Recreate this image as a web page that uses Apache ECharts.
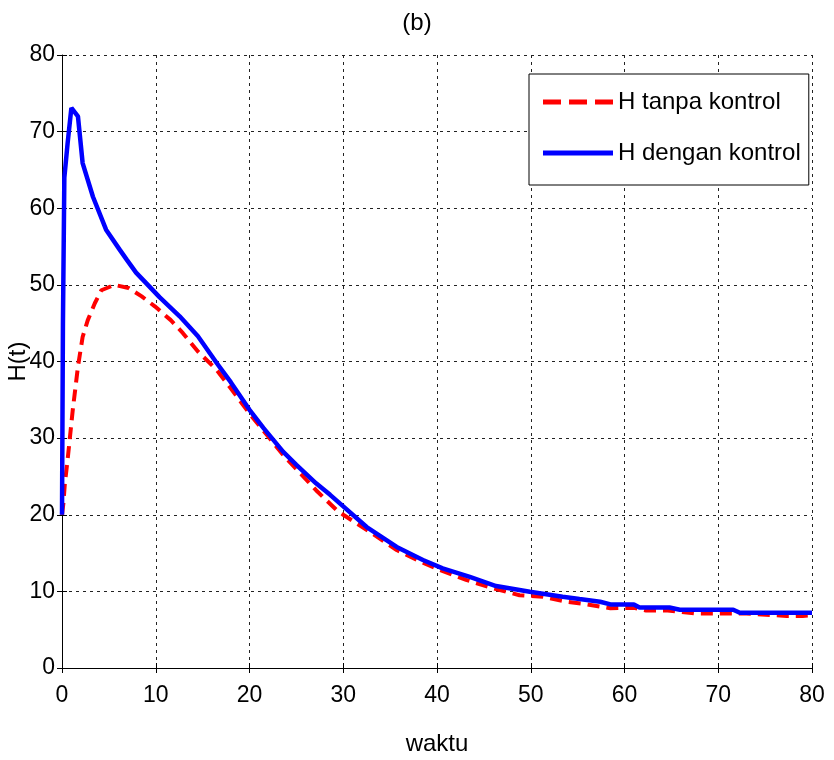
<!DOCTYPE html>
<html>
<head>
<meta charset="utf-8">
<script src="https://cdn.jsdelivr.net/npm/echarts@6/dist/echarts.min.js"></script>
<style>
html,body{margin:0;padding:0;background:#fff;}
#chart{width:834px;height:760px;}
</style>
</head>
<body>
<div id="chart"></div>
<script>
// ---- data ----
const xTicks = [0, 10, 20, 30, 40, 50, 60, 70, 80];
const yTicks = [0, 10, 20, 30, 40, 50, 60, 70, 80];

const tDengan = [0, 0.1, 0.25, 0.6, 1.0, 1.7, 2.2, 3.3, 4.7, 6.15, 6.9, 7.9, 9.0, 10.4, 12.55, 14.5, 16.5, 18, 20, 21.5, 23.6, 25, 27.1, 28.6, 30, 32.5, 35.7, 38.5, 40.6, 43.5, 46.3, 49.9, 53.4, 55.2, 57.4, 58.5, 61, 61.6, 64.8, 65.9, 71.6, 72.3, 80];
const hDengan = [20, 45, 64, 68.5, 73.1, 72, 65.9, 61.5, 57.2, 54.6, 53.3, 51.6, 50.2, 48.4, 45.9, 43.3, 39.8, 37.3, 33.7, 31.3, 28.2, 26.5, 24.1, 22.6, 21.1, 18.4, 15.8, 14.1, 13.0, 11.9, 10.7, 9.96, 9.3, 9.0, 8.65, 8.3, 8.3, 7.9, 7.9, 7.6, 7.6, 7.2, 7.2];

const tTanpa = [0, 0.15, 0.3, 0.6, 1.15, 1.7, 2.2, 2.75, 3.5, 4.2, 5.6, 7.1, 8.5, 9.9, 11.6, 12.9, 14.5, 16.5, 18, 20, 21.8, 23.6, 25.5, 27.1, 29.3, 30, 32.8, 35.7, 38.2, 40.3, 43.1, 46, 48.8, 51.3, 53.8, 56, 58.5, 61, 62.3, 64.6, 67.7, 70.5, 73, 77.3, 79, 80];
const hTanpa = [20, 21.5, 24, 27.2, 33.7, 39.3, 43.2, 45.4, 47.6, 49.3, 50, 49.6, 48.5, 47.2, 45.4, 43.7, 41.3, 38.9, 36.5, 33.2, 30.5, 27.8, 25.3, 23.2, 20.6, 20.0, 17.8, 15.4, 13.9, 12.8, 11.5, 10.4, 9.5, 9.3, 8.65, 8.3, 7.8, 7.85, 7.5, 7.5, 7.1, 7.1, 7.1, 6.8, 6.8, 6.9];

const seriesNames = ['H tanpa kontrol', 'H dengan kontrol'];
const titleText = '(b)';
const xName = 'waktu';
const yName = 'H(t)';

// ---- chart ----
const FONT = '"Liberation Sans", Arial, sans-serif';
const zip = (a, b) => a.map((v, i) => [v, b[i]]);
const gridLine = { show: true, lineStyle: { color: '#222', width: 1, type: [3, 4] } };
const dashIcon = 'path://M0,0H18V5H0Z M26,0H44V5H26Z M52,0H70V5H52Z';
const solidIcon = 'path://M0,0H70V5H0Z';

const chart = echarts.init(document.getElementById('chart'), null, { renderer: 'canvas' });
chart.setOption({
  animation: false,
  backgroundColor: '#fff',
  title: {
    text: titleText, left: 'center', top: 6,
    textStyle: { fontFamily: FONT, fontSize: 24, fontWeight: 'normal', color: '#000' }
  },
  grid: { left: 62, right: 22, top: 55, bottom: 92, containLabel: false, outerBoundsMode: 'none' },
  legend: {
    orient: 'vertical', left: 529, top: 74,
    padding: [14, 8, 18, 14],
    itemWidth: 70, itemHeight: 5, itemGap: 23,
    backgroundColor: '#fff', borderColor: '#000', borderWidth: 1, borderRadius: 0,
    textStyle: { fontFamily: FONT, fontSize: 24, color: '#000', lineHeight: 28 },
    data: [
      { name: seriesNames[0], icon: dashIcon, itemStyle: { color: '#ff0000' } },
      { name: seriesNames[1], icon: solidIcon, itemStyle: { color: '#0000ff' } }
    ]
  },
  xAxis: [{
    type: 'value', min: xTicks[0], max: xTicks[xTicks.length - 1], interval: xTicks[1] - xTicks[0],
    name: xName, nameLocation: 'middle', nameGap: 64, nameMoveOverlap: false,
    nameTextStyle: { fontFamily: FONT, fontSize: 24, color: '#000' },
    axisLine: { show: true, lineStyle: { color: '#000', width: 1 } },
    axisTick: { show: true, inside: true, length: 5, lineStyle: { color: '#000' } },
    axisLabel: { fontFamily: FONT, fontSize: 23, color: '#000', margin: 16 },
    splitLine: gridLine
  }, {
    type: 'value', position: 'top', min: xTicks[0], max: xTicks[xTicks.length - 1], interval: xTicks[1] - xTicks[0],
    axisLine: { show: false },
    axisTick: { show: true, inside: true, length: 5, lineStyle: { color: '#000' } },
    axisLabel: { show: false }, splitLine: { show: false }
  }],
  yAxis: [{
    type: 'value', min: yTicks[0], max: yTicks[yTicks.length - 1], interval: yTicks[1] - yTicks[0],
    name: yName, nameLocation: 'middle', nameGap: 32, nameRotate: 90, nameMoveOverlap: false,
    nameTextStyle: { fontFamily: FONT, fontSize: 24, color: '#000' },
    axisLine: { show: true, lineStyle: { color: '#000', width: 1 } },
    axisTick: { show: true, inside: true, length: 5, lineStyle: { color: '#000' } },
    axisLabel: { fontFamily: FONT, fontSize: 23, color: '#000', margin: 7 },
    splitLine: gridLine
  }, {
    type: 'value', position: 'right', min: yTicks[0], max: yTicks[yTicks.length - 1], interval: yTicks[1] - yTicks[0],
    axisLine: { show: false },
    axisTick: { show: true, inside: true, length: 5, lineStyle: { color: '#000' } },
    axisLabel: { show: false }, splitLine: { show: false }
  }],
  series: [{
    name: seriesNames[0], type: 'line', data: zip(tTanpa, hTanpa),
    showSymbol: false, symbol: 'none', smooth: false, z: 3,
    lineStyle: { color: '#ff0000', width: 4, type: [12, 7] },
    itemStyle: { color: '#ff0000' }
  }, {
    name: seriesNames[1], type: 'line', data: zip(tDengan, hDengan),
    showSymbol: false, symbol: 'none', smooth: false, z: 4,
    lineStyle: { color: '#0000ff', width: 4.5 },
    itemStyle: { color: '#0000ff' }
  }]
});
</script>
</body>
</html>
